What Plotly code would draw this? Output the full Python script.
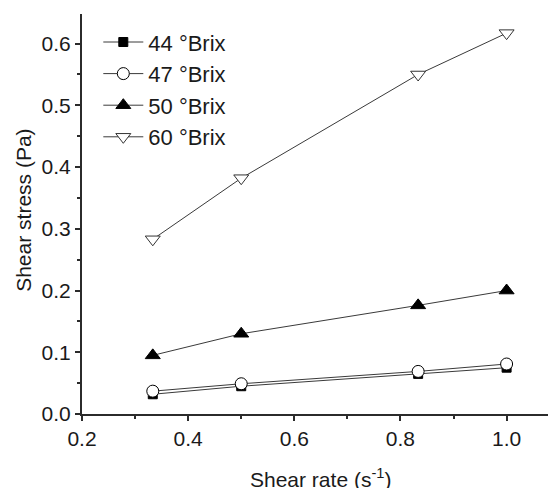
import plotly.graph_objects as go

# Shear rate (s^-1) and measured shear stress (Pa) per sugar concentration
shear_rate = [1/3, 0.5, 5/6, 1.0]
stress_44 = [0.032, 0.045, 0.065, 0.075]
stress_47 = [0.037, 0.049, 0.069, 0.081]
stress_50 = [0.095, 0.130, 0.176, 0.200]
stress_60 = [0.283, 0.382, 0.550, 0.617]
series_names = ["44 °Brix", "47 °Brix", "50 °Brix", "60 °Brix"]
x_title = "Shear rate (s<sup>-1</sup>)"
y_title = "Shear stress (Pa)"

FONT = "Liberation Sans, Arial, sans-serif"
AX = "#2b2b2b"
LINE = "#3a3a3a"
TXT = "#1a1a1a"

fig = go.Figure()

styles = [
    (stress_44, dict(symbol="square", size=9, color="black", line=dict(color="black", width=1))),
    (stress_47, dict(symbol="circle", size=12, color="white", line=dict(color="black", width=1))),
    (stress_50, dict(symbol="triangle-up", size=13, color="black", line=dict(color="black", width=1))),
    (stress_60, dict(symbol="triangle-down", size=13, color="white", line=dict(color="#333333", width=1))),
]

for name, (vals, marker) in zip(series_names, styles):
    fig.add_trace(go.Scatter(
        x=shear_rate, y=vals, name=name, mode="lines+markers",
        line=dict(color=LINE, width=1), marker=marker,
    ))

fig.update_layout(
    width=548, height=488,
    margin=dict(l=82, r=0, t=14, b=74),
    paper_bgcolor="white", plot_bgcolor="white",
    font=dict(family=FONT, color=TXT, size=21),
    showlegend=True,
    legend=dict(
        x=0.035, y=0.982, xanchor="left", yanchor="top",
        bgcolor="rgba(0,0,0,0)", font=dict(size=22, family=FONT, color=TXT),
        itemwidth=40,
    ),
    xaxis=dict(
        range=[0.2, 1.078], tick0=0.2, dtick=0.2, tickformat=".1f",
        showline=True, linewidth=2, linecolor=AX, showgrid=False, zeroline=False,
        ticks="outside", ticklen=5, tickwidth=1.5, tickcolor=AX, automargin=False,
        minor=dict(dtick=0.1, ticks="outside", ticklen=3, tickwidth=1.5, tickcolor=AX, showgrid=False),
        tickfont=dict(size=21),
    ),
    xaxis2=dict(
        overlaying="x", side="top", range=[0, 9.77], tick0=0, dtick=2,
        showline=True, linewidth=2, linecolor=AX, showgrid=False, zeroline=False,
        ticks="inside", ticklen=7, tickwidth=1.5, tickcolor=AX, showticklabels=False,
        automargin=False,
        minor=dict(dtick=1, ticks="inside", ticklen=4, tickwidth=1.5, tickcolor=AX, showgrid=False),
    ),
    yaxis=dict(
        range=[0, 0.648], tick0=0, dtick=0.1, tickformat=".1f",
        showline=True, linewidth=2, linecolor=AX, showgrid=False, zeroline=False,
        ticks="outside", ticklen=5, tickwidth=1.5, tickcolor=AX, automargin=False,
        minor=dict(dtick=0.05, ticks="outside", ticklen=3, tickwidth=1.5, tickcolor=AX, showgrid=False),
        tickfont=dict(size=21),
    ),
    annotations=[
        dict(text=x_title, xref="paper", yref="paper", x=0.512, y=-0.16,
             xanchor="center", yanchor="middle", showarrow=False,
             font=dict(size=21, family=FONT, color=TXT)),
        dict(text=y_title, xref="paper", yref="paper", x=-0.127, y=0.51,
             xanchor="center", yanchor="middle", textangle=-90, showarrow=False,
             font=dict(size=21, family=FONT, color=TXT)),
    ],
)

fig.write_html("out.html")
